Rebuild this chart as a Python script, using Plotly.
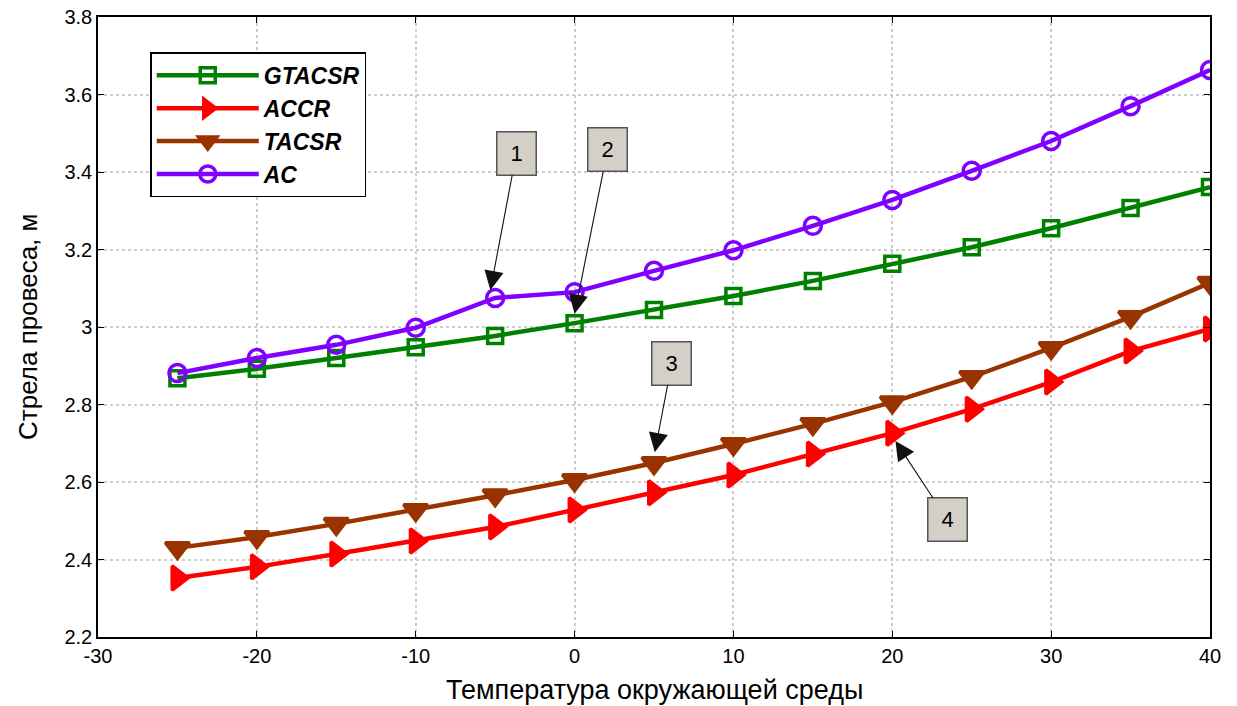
import plotly.graph_objects as go

# Ambient temperature, °C
temps = [-25, -20, -15, -10, -5, 0, 5, 10, 15, 20, 25, 30, 35, 40]

# Conductor sag, m
sag_gtacsr = [2.868, 2.892, 2.920, 2.948, 2.977, 3.010, 3.044, 3.080, 3.119, 3.163, 3.206, 3.255, 3.307, 3.361]
sag_accr = [2.352, 2.381, 2.414, 2.448, 2.484, 2.528, 2.572, 2.618, 2.672, 2.726, 2.788, 2.858, 2.938, 2.995]
sag_tacsr = [2.430, 2.458, 2.492, 2.528, 2.566, 2.605, 2.649, 2.698, 2.750, 2.806, 2.871, 2.946, 3.026, 3.114]
sag_ac = [2.881, 2.920, 2.954, 2.998, 3.075, 3.090, 3.145, 3.198, 3.261, 3.328, 3.403, 3.480, 3.570, 3.663]

x_ticks = [-30, -20, -10, 0, 10, 20, 30, 40]
x_tick_text = ["-30", "-20", "-10", "0", "10", "20", "30", "40"]
y_ticks = [2.2, 2.4, 2.6, 2.8, 3.0, 3.2, 3.4, 3.6, 3.8]
y_tick_text = ["2.2", "2.4", "2.6", "2.8", "3", "3.2", "3.4", "3.6", "3.8"]

FONT = "Liberation Sans, Arial, sans-serif"

series = [
    ("GTACSR", sag_gtacsr, "#008000", "square-open", 15),
    ("ACCR", sag_accr, "#ff0000", "triangle-right", 21),
    ("TACSR", sag_tacsr, "#993300", "triangle-down", 21),
    ("AC", sag_ac, "#7f00ff", "circle-open", 17),
]

fig = go.Figure()
for name, vals, color, symbol, size in series:
    fig.add_trace(go.Scatter(
        x=temps, y=vals, mode="lines+markers",
        name=f"<b><i>{name}</i></b>",
        line=dict(color=color, width=4.5),
        marker=dict(symbol=symbol, size=size, color=color,
                    line=dict(color=color, width=3.5)),
    ))

# Numbered callouts: (label, x, y, dx, dy)
callouts = [
    ("1", -5.3, 3.095, 26, -137),
    ("2", 0.0, 3.034, 33, -164),
    ("3", 5.05, 2.677, 17, -89),
    ("4", 20.2, 2.706, 52, 79),
]
for label, cx, cy, dx, dy in callouts:
    fig.add_annotation(
        x=cx, y=cy, xref="x", yref="y", ax=dx, ay=dy,
        text=label, showarrow=True, arrowhead=2, arrowsize=3.5,
        arrowwidth=1.1, arrowcolor="#111111",
        font=dict(family=FONT, size=22, color="black"),
        bgcolor="#d4d0c8", bordercolor="#555555", borderwidth=1.5,
        width=36, height=40,
    )

# Axis titles
fig.add_annotation(
    x=0.5, y=-0.085, xref="paper", yref="paper", showarrow=False,
    text="Температура окружающей среды", xanchor="center", yanchor="middle",
    font=dict(family=FONT, size=27, color="black"),
)
fig.add_annotation(
    x=-0.063, y=0.5, xref="paper", yref="paper", showarrow=False,
    text="Стрела провеса, м", textangle=-90, xanchor="center", yanchor="middle",
    font=dict(family=FONT, size=26, color="black"),
)

axis_common = dict(
    showline=True, linecolor="black", linewidth=1.5, mirror="ticks",
    ticks="inside", ticklen=6, tickcolor="black",
    showgrid=True, gridcolor="#cccccc", griddash="dot", gridwidth=1.5,
    zeroline=False, automargin=False,
    tickfont=dict(family=FONT, size=20, color="black"),
)

fig.update_xaxes(range=[-30, 40], tickvals=x_ticks, ticktext=x_tick_text, **axis_common)
fig.update_yaxes(range=[2.2, 3.8], tickvals=y_ticks, ticktext=y_tick_text, **axis_common)

fig.update_layout(
    width=1237, height=706,
    margin=dict(l=98, r=27, t=17, b=69),
    plot_bgcolor="white", paper_bgcolor="white",
    legend=dict(
        x=0.047, y=0.943, xanchor="left", yanchor="top",
        bgcolor="white", bordercolor="black", borderwidth=1.5,
        font=dict(family=FONT, size=23, color="black"),
        itemwidth=102,
    ),
)

fig.write_html("out.html")
